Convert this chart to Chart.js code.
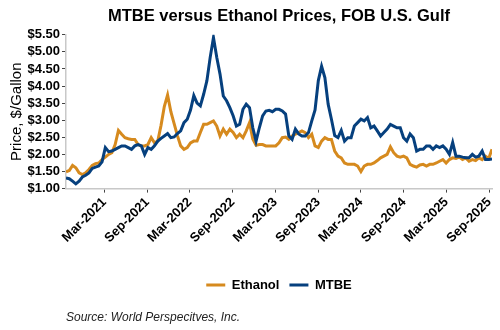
<!DOCTYPE html>
<html>
<head>
<meta charset="utf-8">
<title>MTBE versus Ethanol Prices</title>
<script src="https://cdn.jsdelivr.net/npm/chart.js@4.4.1/dist/chart.umd.min.js"></script>
<style>
  html, body { margin: 0; padding: 0; background: #fff; }
</style>
</head>
<body>
<canvas id="priceChart" width="500" height="330"></canvas>
<script>
// FOB U.S. Gulf spot prices, $/gallon, sampled every two weeks
const firstWeek = '2020-09-18';
const stepDays = 14;

const ethanol = [
  1.49, 1.53, 1.68, 1.61, 1.46, 1.41, 1.46, 1.56, 1.68, 1.73,
  1.75, 1.85, 1.92, 2.00, 2.05, 2.29, 2.70, 2.59, 2.49, 2.46,
  2.44, 2.44, 2.29, 2.25, 2.25, 2.29, 2.49, 2.34, 2.39, 2.85,
  3.40, 3.74, 3.25, 2.90, 2.55, 2.25, 2.15, 2.20, 2.34, 2.39,
  2.39, 2.64, 2.88, 2.88, 2.93, 2.98, 2.83, 2.54, 2.74, 2.59,
  2.74, 2.64, 2.49, 2.59, 2.49, 2.69, 2.93, 2.45, 2.27, 2.29,
  2.29, 2.25, 2.25, 2.25, 2.25, 2.34, 2.49, 2.51, 2.44, 2.54,
  2.59, 2.64, 2.69, 2.64, 2.49, 2.59, 2.25, 2.20, 2.39, 2.49,
  2.44, 2.44, 2.10, 1.95, 1.90, 1.75, 1.71, 1.71, 1.71, 1.66,
  1.50, 1.66, 1.71, 1.71, 1.75, 1.82, 1.90, 1.95, 2.00, 2.22,
  2.05, 1.95, 1.92, 1.95, 1.90, 1.71, 1.66, 1.63, 1.69, 1.71,
  1.66, 1.71, 1.71, 1.75, 1.80, 1.85, 1.75, 1.85, 1.90, 1.88,
  1.92, 1.85, 1.90, 1.80, 1.85, 1.82, 1.90, 1.85, 1.95, 1.88,
  2.15
];

const mtbe = [
  1.31, 1.29, 1.22, 1.14, 1.22, 1.34, 1.39, 1.46, 1.59, 1.63,
  1.66, 1.78, 2.20, 2.08, 2.10, 2.15, 2.20, 2.25, 2.25, 2.20,
  2.15, 2.25, 2.29, 2.25, 2.00, 2.20, 2.15, 2.25, 2.39, 2.47,
  2.54, 2.61, 2.49, 2.51, 2.61, 2.69, 2.93, 3.03, 3.30, 3.72,
  3.50, 3.42, 3.76, 4.16, 4.84, 5.42, 4.84, 4.35, 3.71, 3.57,
  3.37, 3.13, 2.83, 2.88, 3.32, 3.47, 3.37, 2.78, 2.39, 2.78,
  3.13, 3.27, 3.29, 3.25, 3.32, 3.32, 3.27, 3.18, 2.54, 2.44,
  2.74, 2.60, 2.54, 2.54, 2.64, 2.98, 3.30, 4.16, 4.58, 4.25,
  3.47, 3.03, 2.55, 2.49, 2.70, 2.39, 2.49, 2.49, 2.83, 2.93,
  3.03, 2.98, 3.08, 2.78, 2.83, 2.69, 2.54, 2.64, 2.74, 2.88,
  2.83, 2.78, 2.78, 2.49, 2.39, 2.60, 2.49, 2.10, 2.15, 2.15,
  2.25, 2.25, 2.15, 2.25, 2.20, 2.25, 2.15, 2.00, 2.35, 1.95,
  1.95, 1.92, 1.90, 1.90, 2.00, 1.92, 1.95, 2.10, 1.85, 1.85,
  1.87
];

const tickLabels = [
  'Mar-2021', 'Sep-2021', 'Mar-2022', 'Sep-2022', 'Mar-2023',
  'Sep-2023', 'Mar-2024', 'Sep-2024', 'Mar-2025', 'Sep-2025'
];

// x axis runs in days so the dates land where they belong
const DAY = 86400000;
const monthIndex = { Mar: 2, Sep: 8 };
const start = Date.parse(firstWeek) / DAY;
const end = start + (ethanol.length - 1) * stepDays;
const tickDays = tickLabels.map(lbl => {
  const [m, y] = lbl.split('-');
  return Date.UTC(+y, monthIndex[m], 1) / DAY;
});
const toPoints = vals => vals.map((v, i) => ({ x: start + i * stepDays, y: v }));

Chart.defaults.font.family = "'Liberation Sans', Arial, sans-serif";
Chart.defaults.color = '#000';

new Chart(document.getElementById('priceChart'), {
  type: 'line',
  data: {
    datasets: [{
      label: 'Ethanol',
      data: toPoints(ethanol),
      borderColor: '#D68A1E',
      backgroundColor: '#D68A1E',
      borderWidth: 3,
      pointRadius: 0,
      order: 1
    }, {
      label: 'MTBE',
      data: toPoints(mtbe),
      borderColor: '#06407E',
      backgroundColor: '#06407E',
      borderWidth: 3,
      pointRadius: 0,
      order: 0
    }]
  },
  options: {
    responsive: false,
    animation: false,
    devicePixelRatio: 1,
    layout: { padding: { top: 0, right: 8, bottom: 5, left: 0 } },
    plugins: {
      title: {
        display: true,
        text: 'MTBE versus Ethanol Prices, FOB U.S. Gulf',
        fullSize: false,
        font: { size: 16.5, weight: 'bold' },
        padding: { top: 7, bottom: 8 }
      },
      legend: {
        position: 'bottom',
        fullSize: false,
        labels: {
          usePointStyle: true,
          pointStyle: 'line',
          pointStyleWidth: 19,
          padding: 10,
          font: { size: 13, weight: 'bold' },
          // keep Ethanol first even though MTBE is drawn on top
          sort: (a, b) => a.datasetIndex - b.datasetIndex
        }
      },
      subtitle: {
        display: true,
        text: 'Source: World Perspecitves, Inc.',
        position: 'bottom',
        align: 'start',
        fullSize: false,
        color: '#222',
        font: { size: 12, style: 'italic' },
        padding: { top: 9, bottom: 0 }
      },
      tooltip: { enabled: false }
    },
    scales: {
      x: {
        type: 'linear',
        min: start,
        max: end,
        border: { color: '#c8c8c8', width: 1.5 },
        grid: { drawOnChartArea: false, tickLength: 4, tickColor: '#444' },
        ticks: {
          autoSkip: false,
          minRotation: 45,
          maxRotation: 45,
          padding: 2,
          font: { size: 13, weight: 'bold' },
          callback: (v, i) => tickLabels[i]
        },
        afterBuildTicks: axis => { axis.ticks = tickDays.map(v => ({ value: v })); },
        afterFit: axis => { axis.height = 80; axis.paddingLeft = 0; axis.paddingRight = 0; }
      },
      y: {
        min: 1,
        max: 5.5,
        border: { color: '#c8c8c8', width: 1.5 },
        grid: { drawOnChartArea: false, tickLength: 4, tickColor: '#444' },
        ticks: {
          stepSize: 0.5,
          autoSkip: false,
          padding: 2,
          font: { size: 13, weight: 'bold' },
          callback: v => '$' + v.toFixed(2)
        },
        title: {
          display: true,
          text: 'Price, $/Gallon',
          font: { size: 15 },
          padding: { top: 8, bottom: 0 }
        },
        afterFit: axis => { axis.width = 66; axis.paddingTop = 0; axis.paddingBottom = 0; }
      }
    }
  }
});
</script>
</body>
</html>
